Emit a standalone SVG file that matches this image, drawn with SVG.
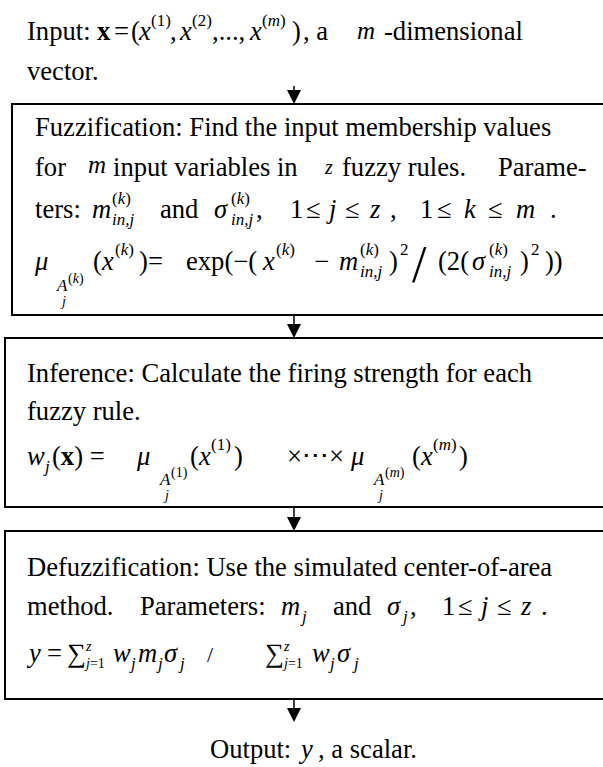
<svg xmlns="http://www.w3.org/2000/svg" width="603" height="767" viewBox="0 0 603 767">
<defs>
<style>
text{font-family:"Liberation Serif","Times New Roman",serif;fill:#000;font-size:26.6px}
.i{font-style:italic}
.b{font-weight:bold}
.s{font-size:17px}
.ss{font-size:14px}
.box{fill:#fff;stroke:#000;stroke-width:2}
.ln{stroke:#000;stroke-width:1.5;fill:none}
.ah{fill:#000}
</style>
</defs>
<rect width="603" height="767" fill="#fff"/>

<g id="input">
<text x="27" y="40">Input:</text>
<text x="97" y="40" class="b">x</text>
<text x="114" y="40">=</text>
<text x="131" y="40">(</text>
<text x="139" y="40" class="i">x</text>
<text x="151" y="26" class="s">(1)</text>
<text x="170" y="40">,</text>
<text x="180" y="40" class="i">x</text>
<text x="192" y="26" class="s">(2)</text>
<text x="212" y="40">,...,</text>
<text x="250" y="40" class="i">x</text>
<text x="262" y="26" class="s">(<tspan class="i">m</tspan>)</text>
<text x="292" y="40">)</text>
<text x="303" y="40">, a</text>
<text x="357" y="39" class="i" style="font-size:25px">m</text>
<text x="384" y="40">-dimensional</text>
<text x="27" y="80">vector.</text>
</g>

<g id="fuzzification">
<rect class="box" x="12" y="104" width="600" height="211"/>
<text x="35" y="136">Fuzzification: Find the input membership values</text>
<text x="35" y="176">for</text>
<text x="88" y="173" class="i" style="font-size:25px">m</text>
<text x="113" y="176">input variables in</text>
<text x="325" y="174" class="i" style="font-size:20px">z</text>
<text x="342" y="176">fuzzy rules.</text>
<text x="498" y="176">Parame-</text>
<text x="35" y="218">ters:</text>
<text x="92" y="218" class="i">m</text>
<text x="112" y="204" class="s">(<tspan class="i">k</tspan>)<tspan class="i" x="112" y="225">in,j</tspan></text>
<text x="160" y="218">and</text>
<text x="214" y="218" class="i">σ</text>
<text x="231" y="204" class="s">(<tspan class="i">k</tspan>)<tspan class="i" x="231" y="225">in,j</tspan></text>
<text x="256" y="218">,</text>
<text x="290" y="218">1</text>
<text x="306" y="218">≤</text>
<text x="329" y="218" class="i">j</text>
<text x="345" y="218">≤</text>
<text x="370" y="218" class="i">z</text>
<text x="390" y="218">,</text>
<text x="420" y="218">1</text>
<text x="437" y="218">≤</text>
<text x="464" y="218" class="i">k</text>
<text x="488" y="218">≤</text>
<text x="516" y="218" class="i">m</text>
<text x="550" y="218">.</text>
<text x="35" y="270" class="i">μ</text>
<text x="57" y="291" class="s i">A<tspan class="ss" style="font-style:normal" x="68" y="283">(<tspan class="i">k</tspan>)</tspan><tspan class="ss" x="62" y="306">j</tspan></text>
<text x="93" y="270">(</text>
<text x="102" y="270" class="i">x</text>
<text x="115" y="255" class="s">(<tspan class="i">k</tspan>)</text>
<text x="139" y="270">)</text>
<text x="148" y="270">=</text>
<text x="186" y="270">exp(−(</text>
<text x="263" y="270" class="i">x</text>
<text x="276" y="255" class="s">(<tspan class="i">k</tspan>)</text>
<text x="314" y="270">−</text>
<text x="339" y="270" class="i">m</text>
<text x="360" y="255" class="s">(<tspan class="i">k</tspan>)<tspan class="i" x="360" y="277">in,j</tspan></text>
<text x="389" y="270">)</text>
<text x="400" y="255" class="s">2</text>
<text x="412" y="282" style="font-size:52px">/</text>
<text x="438" y="270">(2(</text>
<text x="472" y="270" class="i">σ</text>
<text x="489" y="255" class="s">(<tspan class="i">k</tspan>)<tspan class="i" x="489" y="277">in,j</tspan></text>
<text x="520" y="270">)</text>
<text x="531" y="255" class="s">2</text>
<text x="545" y="270">))</text>
</g>

<g id="inference">
<rect class="box" x="5" y="338" width="607" height="169"/>
<text x="27" y="382">Inference: Calculate the firing strength for each</text>
<text x="27" y="420">fuzzy rule.</text>
<text x="27" y="465" class="i">w</text>
<text x="45" y="472" class="s i">j</text>
<text x="52" y="465">(<tspan class="b">x</tspan>) =</text>
<text x="137" y="465" class="i">μ</text>
<text x="160" y="485" class="s i">A<tspan class="ss" style="font-style:normal" x="171" y="477">(1)</tspan><tspan class="ss" x="165" y="500">j</tspan></text>
<text x="190" y="465">(</text>
<text x="199" y="465" class="i">x</text>
<text x="211" y="450" class="s">(1)</text>
<text x="234" y="465">)</text>
<text x="287" y="465">×⋅⋅⋅×</text>
<text x="351" y="465" class="i">μ</text>
<text x="374" y="485" class="s i">A<tspan class="ss" style="font-style:normal" x="385" y="477">(<tspan class="i">m</tspan>)</tspan><tspan class="ss" x="379" y="500">j</tspan></text>
<text x="412" y="465">(</text>
<text x="421" y="465" class="i">x</text>
<text x="433" y="450" class="s">(<tspan class="i">m</tspan>)</text>
<text x="459" y="465">)</text>
</g>

<g id="defuzzification">
<rect class="box" x="5" y="531" width="607" height="168"/>
<text x="27" y="576">Defuzzification: Use the simulated center-of-area</text>
<text x="27" y="615">method.</text>
<text x="140" y="615">Parameters:</text>
<text x="281" y="615" class="i">m</text>
<text x="302" y="622" class="s i">j</text>
<text x="333" y="615">and</text>
<text x="387" y="615" class="i">σ</text>
<text x="403" y="622" class="s i">j</text>
<text x="410" y="615">,</text>
<text x="442" y="615">1</text>
<text x="458" y="615">≤</text>
<text x="481" y="615" class="i">j</text>
<text x="497" y="615">≤</text>
<text x="521" y="615" class="i">z</text>
<text x="541" y="615">.</text>
<text x="29" y="662" class="i">y</text>
<text x="47" y="662">=</text>
<text x="67" y="662">∑</text>
<text x="86" y="651" class="ss i">z<tspan x="86" y="668" class="ss">j<tspan style="font-style:normal">=1</tspan></tspan></text>
<text x="113" y="662" class="i">w</text>
<text x="131" y="669" class="s i">j</text>
<text x="138" y="662" class="i">m</text>
<text x="158" y="669" class="s i">j</text>
<text x="164" y="662" class="i">σ</text>
<text x="180" y="669" class="s i">j</text>
<text x="207" y="662" style="font-size:22px">/</text>
<text x="265" y="662">∑</text>
<text x="284" y="651" class="ss i">z<tspan x="284" y="668" class="ss">j<tspan style="font-style:normal">=1</tspan></tspan></text>
<text x="312" y="662" class="i">w</text>
<text x="330" y="669" class="s i">j</text>
<text x="337" y="662" class="i">σ</text>
<text x="354" y="669" class="s i">j</text>
</g>

<g id="output">
<text x="210" y="758">Output:</text>
<text x="301" y="758" class="i">y</text>
<text x="318" y="758">, a scalar.</text>
</g>

<g id="connectors">
<line class="ln" x1="294" y1="86" x2="294" y2="91"/>
<path class="ah" d="M287,90 L301,90 L294,104 Z"/>
<line class="ln" x1="294" y1="315" x2="294" y2="325"/>
<path class="ah" d="M287,324 L301,324 L294,338 Z"/>
<line class="ln" x1="294" y1="507" x2="294" y2="518"/>
<path class="ah" d="M287,517 L301,517 L294,531 Z"/>
<line class="ln" x1="294" y1="699" x2="294" y2="709"/>
<path class="ah" d="M287,708 L301,708 L294,722 Z"/>
</g>
</svg>
